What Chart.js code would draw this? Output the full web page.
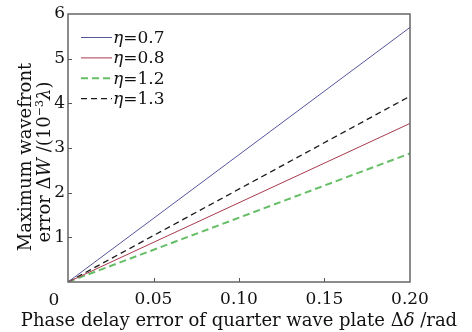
<!DOCTYPE html>
<html><head><meta charset="utf-8">
<script src="https://cdn.jsdelivr.net/npm/chart.js@4/dist/chart.umd.min.js"></script>
<style>html,body{margin:0;padding:0;background:#fff}#w{width:472px;height:332px}</style>
</head><body><div id="w"><canvas id="c" width="472" height="332"></canvas></div>
<script>
const xValues = [0, 0.2];
const seriesNames = ['0.7', '0.8', '1.2', '1.3'];
const eta07 = [0, 5.70];
const eta08 = [0, 3.55];
const eta12 = [0, 2.88];
const eta13 = [0, 4.16];
const xTicks = [0, 0.05, 0.10, 0.15, 0.20];
const yTicks = [0, 1, 2, 3, 4, 5, 6];

const FONT = '"DejaVu Serif", "Liberation Serif", serif';
const FS = 17;

function pts(vals){ return vals.map((v,i)=>({x:xValues[i], y:v})); }

const styles = [
  {color:'#55559c', width:1, dash:[]},
  {color:'#a63a4c', width:1, dash:[]},
  {color:'#66be66', width:2, dash:[7,4]},
  {color:'#1a1a1a', width:1.3, dash:[6,4]}
];
const seriesVals = [eta07, eta08, eta12, eta13];

const datasets = seriesVals.map((v,i)=>({
  label: 'η=' + seriesNames[i],
  data: pts(v),
  borderColor: styles[i].color,
  borderWidth: styles[i].width,
  borderDash: styles[i].dash,
  pointRadius: 0,
  fill: false,
  tension: 0
}));

function drawRich(ctx, parts, x, y, align){
  let total = 0;
  parts.forEach(p=>{ ctx.font = p.font; p.w = ctx.measureText(p.t).width; total += p.w; });
  let cx = align === 'center' ? x - total/2 : (align === 'right' ? x - total : x);
  parts.forEach(p=>{ ctx.font = p.font; ctx.fillText(p.t, cx, y + (p.dy||0)); cx += p.w; });
}

const decor = {
  id: 'decor',
  afterDraw(chart){
    const ctx = chart.ctx, a = chart.chartArea;
    const xs = chart.scales.x, ys = chart.scales.y;
    ctx.save();
    ctx.strokeStyle = '#555'; ctx.lineWidth = 1;
    xTicks.forEach(t=>{ if(t<=0||t>=0.2) return; const px = Math.round(xs.getPixelForValue(t))+0.5;
      ctx.beginPath(); ctx.moveTo(px, a.bottom); ctx.lineTo(px, a.bottom-4); ctx.stroke(); });
    yTicks.forEach(t=>{ if(t<=0||t>=6) return; const py = Math.round(ys.getPixelForValue(t))+0.5;
      ctx.beginPath(); ctx.moveTo(a.left, py); ctx.lineTo(a.left+4, py); ctx.stroke(); });
    ctx.strokeStyle = '#666'; ctx.lineWidth = 1.5;
    ctx.strokeRect(a.left, a.top, a.right-a.left, a.bottom-a.top);
    ctx.fillStyle = '#111'; ctx.textAlign = 'left'; ctx.textBaseline = 'alphabetic';
    ctx.font = FS + 'px ' + FONT;
    const zw = ctx.measureText('0').width;
    ctx.fillText('0', 54 - zw/2, 305);
    chart.data.datasets.forEach((d,i)=>{
      const y = 37 + i*20.4;
      ctx.save();
      ctx.strokeStyle = d.borderColor; ctx.lineWidth = d.borderWidth;
      ctx.setLineDash(d.borderDash);
      ctx.beginPath(); ctx.moveTo(81, y+0.5); ctx.lineTo(112, y+0.5); ctx.stroke();
      ctx.restore();
      ctx.fillStyle = '#111';
      drawRich(ctx, [
        {t:'η', font:'italic ' + FS + 'px ' + FONT},
        {t:'=' + seriesNames[i], font: FS + 'px ' + FONT}
      ], 113, y + 6, 'left');
    });
    drawRich(ctx, [
      {t:'Phase delay error of quarter wave plate Δ', font: '18px ' + FONT},
      {t:'δ', font:'italic 18px ' + FONT},
      {t:' /rad', font: '18px ' + FONT}
    ], 239, 326, 'center');
    ctx.save();
    ctx.translate(31, 157); ctx.rotate(-Math.PI/2);
    drawRich(ctx, [{t:'Maximum wavefront', font: '18px ' + FONT}], 0, 0, 'center');
    ctx.restore();
    ctx.save();
    ctx.translate(50, 162); ctx.rotate(-Math.PI/2);
    drawRich(ctx, [
      {t:'error Δ', font:'18px ' + FONT},
      {t:'W', font:'italic 18px ' + FONT},
      {t:' /(10', font:'18px ' + FONT},
      {t:'−3', font:'11px ' + FONT, dy:-7},
      {t:'λ', font:'italic 18px ' + FONT},
      {t:')', font:'18px ' + FONT}
    ], 0, 0, 'center');
    ctx.restore();
    ctx.restore();
  }
};

new Chart(document.getElementById('c'), {
  type: 'line',
  data: { datasets },
  options: {
    responsive: false,
    animation: false,
    devicePixelRatio: 1,
    layout: { padding: { top: 14, right: 62, left: 0, bottom: 0 } },
    plugins: { legend: { display: false }, tooltip: { enabled: false } },
    scales: {
      x: {
        type: 'linear', min: 0, max: 0.2,
        afterBuildTicks: s => { s.ticks = xTicks.map(v=>({value:v})); },
        afterFit: s => { s.height = 50; },
        grid: { display: true, drawOnChartArea: false, drawTicks: false, color: 'rgba(0,0,0,0)' },
        border: { display: false },
        ticks: { padding: 7, color: '#111', font: { family: FONT, size: FS },
          callback: v => v === 0 ? '' : v.toFixed(2), maxRotation: 0 }
      },
      y: {
        type: 'linear', min: 0, max: 6,
        afterBuildTicks: s => { s.ticks = yTicks.map(v=>({value:v})); },
        afterFit: s => { s.width = 68; },
        grid: { display: true, drawOnChartArea: false, drawTicks: false, color: 'rgba(0,0,0,0)' },
        border: { display: false },
        ticks: { padding: 3, color: '#111', font: { family: FONT, size: FS },
          callback: v => v === 0 ? '' : String(v) }
      }
    }
  },
  plugins: [decor]
});
</script>
</body></html>
